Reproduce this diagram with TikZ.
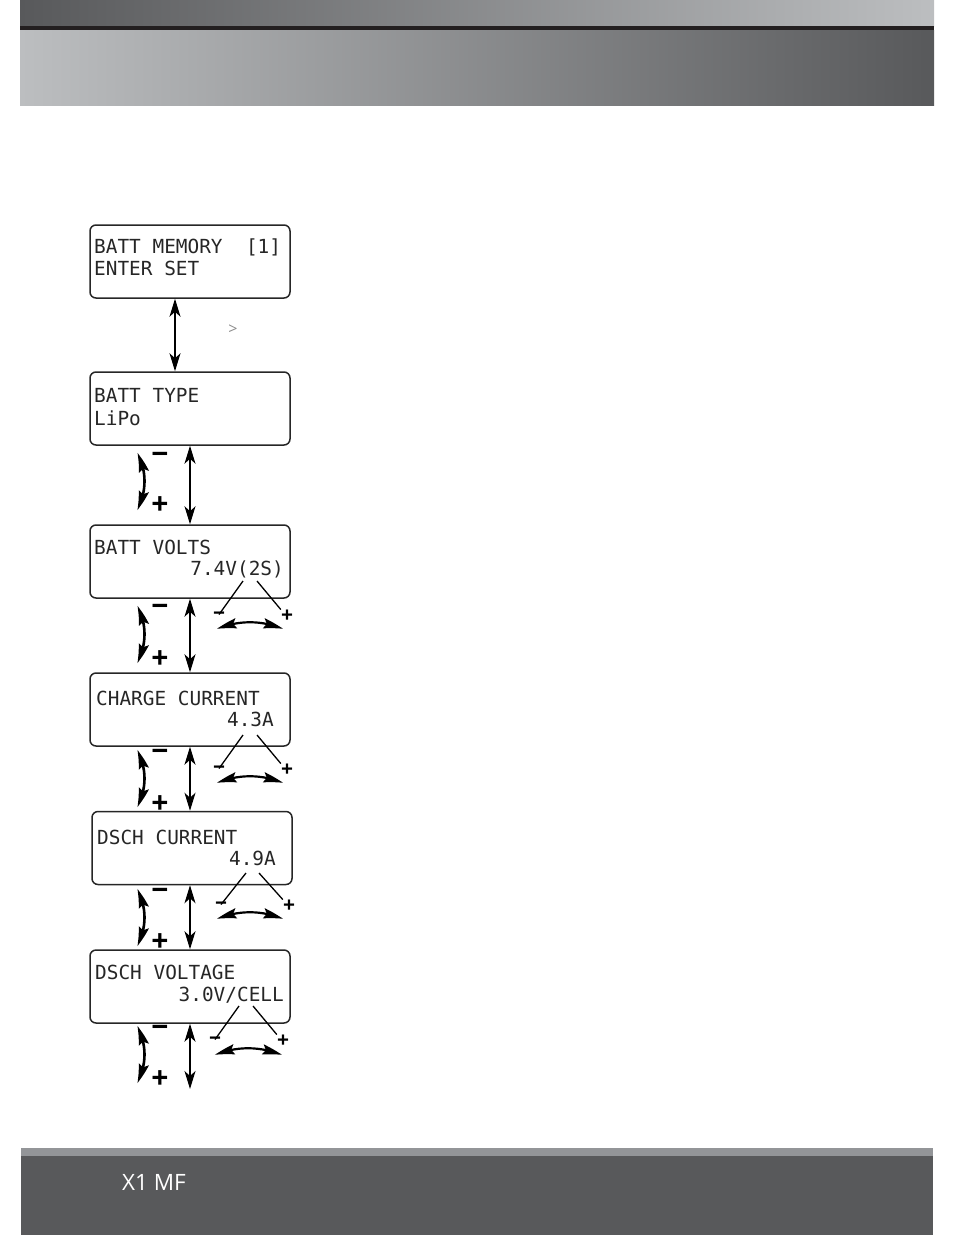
\documentclass[tikz,border=0pt]{standalone}
\usepackage{fontspec}
\setmonofont{DejaVu Sans Mono}
\setsansfont{Open Sans}
\usetikzlibrary{arrows.meta,bending}
\definecolor{tmava}{HTML}{58595B}
\definecolor{seda}{HTML}{939598}
\definecolor{svetla}{HTML}{BCBEC0}
\definecolor{pruh}{HTML}{231F20}
\tikzset{
  displej/.style={draw=black!85,line width=1.5pt,rounded corners=6pt,minimum width=200pt,minimum height=73pt,inner sep=0pt},
  radek/.style={inner sep=0pt,font=\fontsize{19.4}{20}\selectfont\ttfamily,text=black!85},
  krok/.style={{Stealth[length=18pt,width=11pt,inset=5pt]}-{Stealth[length=18pt,width=11pt,inset=5pt]},line width=1.5pt},
  ohyb/.style={{Stealth[length=20pt,width=10pt,inset=3pt,bend]}-{Stealth[length=20pt,width=10pt,inset=3pt,bend]},line width=2.6pt},
  hodnota/.style={{Stealth[length=20pt,width=10pt,inset=3pt,bend]}-{Stealth[length=20pt,width=10pt,inset=3pt,bend]},line width=2.2pt},
  velke/.style={inner sep=0pt,font=\sffamily\bfseries\fontsize{30}{30}\selectfont},
  male/.style={inner sep=0pt,font=\sffamily\bfseries\fontsize{21}{21}\selectfont},
  vodic/.style={line width=1.3pt}
}
\begin{document}
\begin{tikzpicture}[x=1pt,y=-1pt]
  \useasboundingbox (0,0) rectangle (954,1235);
  % header and footer
  \shade[left color=tmava,right color=svetla] (20,0) rectangle (934,26);
  \fill[pruh] (20,26) rectangle (934,30);
  \shade[left color=svetla,right color=tmava] (20,30) rectangle (934,105);
  \fill[seda] (21,1148) rectangle (933,1156);
  \fill[tmava] (21,1156) rectangle (933,1235);
  \node[inner sep=0pt,anchor=base west,text=white,font=\sffamily\fontsize{22.5}{23}\selectfont] (model) at (122,1190) {X1 MF};
  %
  \node[displej] (pamet) at (190,261.5) {};
  \node[displej] (typ) at (190,408.5) {};
  \node[displej] (volty) at (190,561.5) {};
  \node[displej] (nabiti) at (190,709.5) {};
  \node[displej] (vybiti) at (192,848) {};
  \node[displej] (napeti) at (190,986.5) {};
  %
  \node[radek,anchor=base west] (pametA) at (94,253) {BATT MEMORY~~[1]};
  \node[radek,anchor=base west] (pametB) at (94,275) {ENTER SET};
  \node[radek,anchor=base west] (typA) at (94,402) {BATT TYPE};
  \node[radek,anchor=base west] (typB) at (94,425) {LiPo};
  \node[radek,anchor=base west] (voltyA) at (94,554) {BATT VOLTS};
  \node[radek,anchor=base east] (voltyB) at (284,575) {7.4V(2S)};
  \node[radek,anchor=base west] (nabitiA) at (96,705) {CHARGE CURRENT};
  \node[radek,anchor=base east] (nabitiB) at (274,726) {4.3A};
  \node[radek,anchor=base west] (vybitiA) at (97,844) {DSCH CURRENT};
  \node[radek,anchor=base east] (vybitiB) at (276,865) {4.9A};
  \node[radek,anchor=base west] (napetiA) at (95,979) {DSCH VOLTAGE};
  \node[radek,anchor=base east] (napetiB) at (284,1001) {3.0V/CELL};
  \node[inner sep=0pt,text=black!45,font=\sffamily\fontsize{16}{16}\selectfont] (znak) at (233,330) {>};
  %
  \coordinate (konec) at (190,1089);
  \draw[krok] ([xshift=-15pt]pamet.south) -- ([xshift=-15pt]typ.north);
  \draw[krok] (typ.south) -- (volty.north);
  \draw[krok] (volty.south) -- (nabiti.north);
  \draw[krok] (nabiti.south) -- ([xshift=-2pt]vybiti.north);
  \draw[krok] ([xshift=-2pt]vybiti.south) -- (napeti.north);
  \draw[krok] (napeti.south) -- (konec);
  %
  \node[velke] (minusA) at (160,458) {−};
  \node[velke] (plusA) at (160,506) {+};
  \node[velke] (minusB) at (160,610) {−};
  \node[velke] (plusB) at (160,660) {+};
  \node[velke] (minusC) at (160,755) {−};
  \node[velke] (plusC) at (160,805) {+};
  \node[velke] (minusD) at (160,894) {−};
  \node[velke] (plusD) at (160,943) {+};
  \node[velke] (minusE) at (160,1031) {−};
  \node[velke] (plusE) at (160,1080) {+};
  \draw[ohyb] (137,453) .. controls (147,470) and (147,492) .. (137,510);
  \draw[ohyb] (137,606) .. controls (147,623) and (147,645) .. (137,663);
  \draw[ohyb] (137,750) .. controls (147,768) and (147,789) .. (137,807);
  \draw[ohyb] (137,889) .. controls (147,907) and (147,928) .. (137,946);
  \draw[ohyb] (137,1026) .. controls (147,1044) and (147,1065) .. (137,1083);
  %
  \node[male] (malyMinusB) at (219,616) {−};
  \node[male] (malyPlusB) at (287,616) {+};
  \node[male] (malyMinusC) at (219,770) {−};
  \node[male] (malyPlusC) at (287,770) {+};
  \node[male] (malyMinusD) at (221,906) {−};
  \node[male] (malyPlusD) at (289,906) {+};
  \node[male] (malyMinusE) at (215,1041) {−};
  \node[male] (malyPlusE) at (283,1041) {+};
  %
  \coordinate (odB) at (243,581);
  \coordinate (doB) at (257,581);
  \coordinate (odC) at (243,735);
  \coordinate (doC) at (257,735);
  \coordinate (odD) at (246,873);
  \coordinate (doD) at (259,873);
  \coordinate (odE) at (239,1006);
  \coordinate (doE) at (253,1006);
  \draw[vodic] (odB) -- ([yshift=-3pt]malyMinusB.north);
  \draw[vodic] (doB) -- (malyPlusB.north west);
  \draw[vodic] (odC) -- ([yshift=-3pt]malyMinusC.north);
  \draw[vodic] (doC) -- (malyPlusC.north west);
  \draw[vodic] (odD) -- ([yshift=-3pt]malyMinusD.north);
  \draw[vodic] (doD) -- (malyPlusD.north west);
  \draw[vodic] (odE) -- ([yshift=-3pt]malyMinusE.north);
  \draw[vodic] (doE) -- (malyPlusE.north west);
  %
  \draw[hodnota] (217,629) .. controls (238,620) and (262,620) .. (283,629);
  \draw[hodnota] (217,783) .. controls (238,774) and (262,774) .. (283,783);
  \draw[hodnota] (217,919) .. controls (238,910) and (262,910) .. (283,919);
  \draw[hodnota] (215,1055) .. controls (236,1046) and (260,1046) .. (282,1055);
\end{tikzpicture}
\end{document}
